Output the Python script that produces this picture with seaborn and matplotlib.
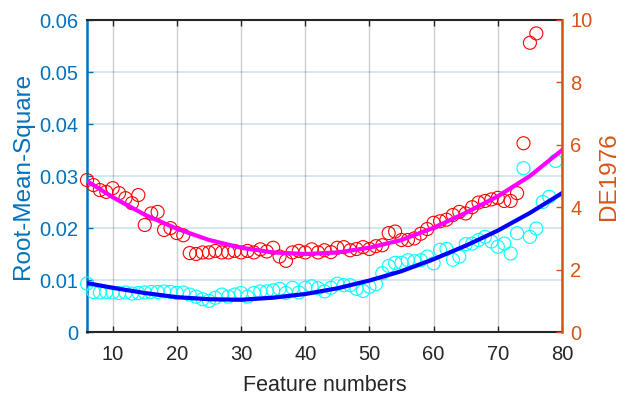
import numpy as np
import pandas as pd
import matplotlib
matplotlib.use("Agg")
import matplotlib.pyplot as plt
import seaborn as sns
from matplotlib.ticker import FixedLocator, FuncFormatter

# ---------------- data ----------------
rms_x = list(range(6, 80))
rms_vals = [0.0093, 0.0077, 0.0076, 0.0077, 0.0076, 0.0075, 0.0076, 0.0074, 0.0075, 0.0076,
            0.0077, 0.0077, 0.0078, 0.0077, 0.0075, 0.0076, 0.0072, 0.0068, 0.0063, 0.0060,
            0.0066, 0.0072, 0.0068, 0.0072, 0.0075, 0.0068, 0.0075, 0.0078, 0.0078, 0.0080,
            0.0083, 0.0075, 0.0085, 0.0076, 0.0085, 0.0088, 0.0084, 0.0078, 0.0085, 0.0093,
            0.0090, 0.0090, 0.0083, 0.0079, 0.0087, 0.0092, 0.0113, 0.0127, 0.0133, 0.0133,
            0.0138, 0.0136, 0.0138, 0.0145, 0.0132, 0.0158, 0.0160, 0.0139, 0.0145, 0.0169,
            0.0170, 0.0177, 0.0183, 0.0174, 0.0164, 0.0170, 0.0151, 0.0190, 0.0315, 0.0183,
            0.0199, 0.0250, 0.0260, 0.0329]

de_x = list(range(6, 77))
de_vals = [4.87, 4.71, 4.55, 4.49, 4.61, 4.45, 4.29, 4.13, 4.39, 3.43,
           3.80, 3.85, 3.27, 3.33, 3.17, 3.10, 2.53, 2.50, 2.55, 2.55,
           2.60, 2.55, 2.55, 2.60, 2.55, 2.60, 2.55, 2.65, 2.58, 2.70,
           2.42, 2.28, 2.55, 2.60, 2.55, 2.65, 2.55, 2.62, 2.56, 2.70,
           2.72, 2.62, 2.66, 2.72, 2.66, 2.75, 2.78, 3.17, 3.22, 2.95,
           2.95, 3.00, 3.15, 3.30, 3.50, 3.55, 3.60, 3.75, 3.85, 3.80,
           4.00, 4.15, 4.20, 4.25, 4.30, 4.20, 4.20, 4.45, 6.05, 9.27,
           9.57]

fit_x = [6, 10, 15, 20, 25, 30, 35, 40, 45, 50, 55, 60, 65, 70, 75, 80]
rms_fit = [0.0094, 0.0085, 0.0075, 0.0067, 0.0063, 0.0062, 0.0066, 0.0073,
           0.0084, 0.0099, 0.0117, 0.0140, 0.0166, 0.0195, 0.0229, 0.0267]
de_fit = [4.84, 4.32, 3.76, 3.31, 2.95, 2.70, 2.55, 2.50,
          2.55, 2.70, 2.95, 3.34, 3.82, 4.35, 5.00, 5.83]

x_ticks = [10, 20, 30, 40, 50, 60, 70, 80]
left_ticks = [0, 0.01, 0.02, 0.03, 0.04, 0.05, 0.06]
right_ticks = [0, 2, 4, 6, 8, 10]

x_label = "Feature numbers"
left_label = "Root-Mean-Square"
right_label = "DE1976"

# ---------------- style ----------------
sns.set_theme(style="white")
plt.rcParams["font.family"] = ["Liberation Sans", "DejaVu Sans"]

BLUE_AX = "#0072BD"
ORANGE_AX = "#D95319"
DARK = "#262626"

fig = plt.figure(figsize=(6.35, 3.96), dpi=100)
ax = fig.add_axes([87 / 635, 1 - 332 / 396, (562 - 87) / 635, (332 - 20) / 396])
ax.set_facecolor("white")

df_rms = pd.DataFrame({"x": rms_x, "y": rms_vals})
df_rms_fit = pd.DataFrame({"x": fit_x, "y": rms_fit})
df_de = pd.DataFrame({"x": de_x, "y": de_vals})
df_de_fit = pd.DataFrame({"x": fit_x, "y": de_fit})

sns.scatterplot(data=df_rms, x="x", y="y", ax=ax, marker="o", s=88,
                facecolor="none", edgecolor="#00FFFF", linewidth=0.8,
                clip_on=False, zorder=3)
sns.lineplot(data=df_rms_fit, x="x", y="y", ax=ax, color="#0000FF",
             linewidth=3.0, sort=False, estimator=None, zorder=4)

ax2 = ax.twinx()
sns.scatterplot(data=df_de, x="x", y="y", ax=ax2, marker="o", s=88,
                facecolor="none", edgecolor="#FF0000", linewidth=0.8,
                clip_on=False, zorder=3)
sns.lineplot(data=df_de_fit, x="x", y="y", ax=ax2, color="#FF00FF",
             linewidth=3.0, sort=False, estimator=None, zorder=4)

# limits
ax.set_xlim(6, 80)
ax.set_ylim(0, 0.06)
ax2.set_ylim(0, 10)

# ticks
ax.xaxis.set_major_locator(FixedLocator(x_ticks))
ax.yaxis.set_major_locator(FixedLocator(left_ticks))
ax.yaxis.set_major_formatter(FuncFormatter(lambda v, p: "0" if v == 0 else f"{v:.2f}"))
ax2.yaxis.set_major_locator(FixedLocator(right_ticks))
ax2.yaxis.set_major_formatter(FuncFormatter(lambda v, p: f"{v:g}"))

ax.tick_params(axis="x", direction="in", length=4.3, width=1.0, colors=DARK,
               labelsize=14.5, pad=9.5, top=True, bottom=True)
ax.tick_params(axis="y", direction="in", length=4.3, width=1.0, colors=BLUE_AX,
               labelsize=14.5, pad=6, left=True, right=False)
ax2.tick_params(axis="y", direction="in", length=4.3, width=1.0, colors=ORANGE_AX,
                labelsize=14.5, pad=6, right=True, left=False)

# grid
ax.grid(True, axis="x", color="#262626", alpha=0.22, linewidth=1.0)
ax.grid(True, axis="y", color=BLUE_AX, alpha=0.2, linewidth=1.2)
ax2.grid(False)
ax.set_axisbelow(True)

# spines
for s in ["top", "bottom"]:
    ax.spines[s].set_color(DARK)
    ax.spines[s].set_linewidth(1.5)
ax.spines["left"].set_color(BLUE_AX)
ax.spines["left"].set_linewidth(1.8)
ax.spines["right"].set_visible(False)
for s in ["top", "bottom", "left"]:
    ax2.spines[s].set_visible(False)
ax2.spines["right"].set_color(ORANGE_AX)
ax2.spines["right"].set_linewidth(1.8)

# labels
ax.set_xlabel(x_label, fontsize=15.5, color=DARK, labelpad=7.5)
ax.set_ylabel(left_label, fontsize=17.5, color=BLUE_AX)
ax2.set_ylabel(right_label, fontsize=17.5, color=ORANGE_AX)
ax.yaxis.set_label_coords((34 - 87) / 475, 0.5)
ax2.yaxis.set_label_coords((598 - 87) / 475, 0.5)

fig.savefig("out.png", dpi=100, facecolor="white")
